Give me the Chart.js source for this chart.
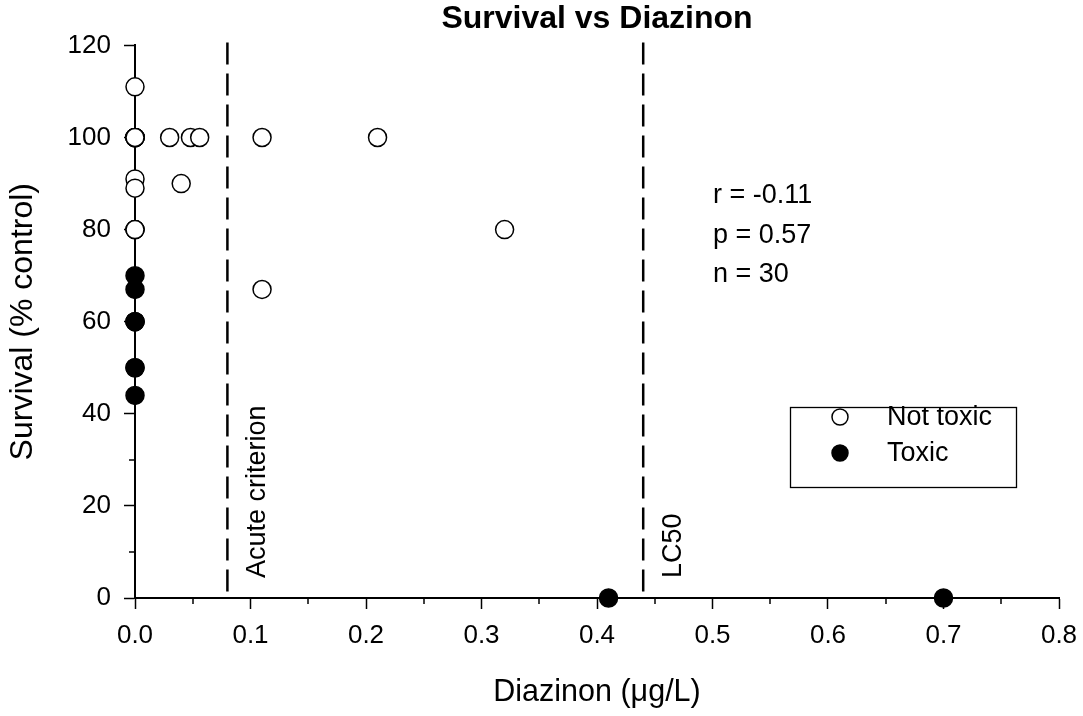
<!DOCTYPE html>
<html><head><meta charset="utf-8">
<script src="https://cdn.jsdelivr.net/npm/chart.js@4/dist/chart.umd.min.js"></script>
<style>html,body{margin:0;padding:0;background:#fff;}#wrap{width:1083px;height:716px;}</style>
</head><body><div id="wrap"><canvas id="c" width="1083" height="716"></canvas></div>
<script>
// ---- data ----
const seriesNames = ['Not toxic', 'Toxic'];
const notToxicX = [0, 0, 0, 0, 0, 0, 0, 0, 0, 0, 0, 0, 0.03, 0.048, 0.056, 0.04, 0.11, 0.21, 0.32, 0.11];
const notToxicY = [111, 100, 100, 100, 100, 100, 100, 91, 89, 80, 80, 80, 100, 100, 100, 90, 100, 100, 80, 67];
const toxicX = [0, 0, 0, 0, 0, 0, 0, 0, 0.41, 0.70];
const toxicY = [70, 67, 60, 60, 60, 50, 50, 44, 0, 0];
const xTickValues = [0, 0.1, 0.2, 0.3, 0.4, 0.5, 0.6, 0.7, 0.8];
const yTickValues = [0, 20, 40, 60, 80, 100, 120];
const xMinorTicks = [0.05, 0.15, 0.25, 0.35, 0.45, 0.55, 0.65, 0.75];
const yMinorTicks = [10, 30, 50, 70, 90, 110];
const refLineX = [0.08, 0.44];
const refLineLabels = ['Acute criterion', 'LC50'];
const statsLines = ['r = -0.11', 'p = 0.57', 'n = 30'];
const chartTitle = 'Survival vs Diazinon';
const xTitle = 'Diazinon (μg/L)';
const yTitle = 'Survival (% control)';

const FONT = '"Liberation Sans", Arial, Helvetica, sans-serif';
Chart.defaults.font.family = FONT;
Chart.defaults.color = '#000';

const toPts = (xs, ys) => xs.map((x, i) => ({x: x, y: ys[i]}));

const overlay = {
  id: 'overlay',
  beforeDatasetsDraw(chart) {
    const {ctx, chartArea, scales} = chart;
    ctx.save();
    // minor ticks
    ctx.strokeStyle = '#000';
    ctx.lineWidth = 1.5;
    xMinorTicks.forEach(v => {
      const px = Math.round(scales.x.getPixelForValue(v));
      ctx.beginPath(); ctx.moveTo(px, chartArea.bottom); ctx.lineTo(px, chartArea.bottom + 6); ctx.stroke();
    });
    yMinorTicks.forEach(v => {
      const py = Math.round(scales.y.getPixelForValue(v));
      ctx.beginPath(); ctx.moveTo(chartArea.left, py); ctx.lineTo(chartArea.left - 6, py); ctx.stroke();
    });
    // dashed reference lines
    ctx.lineWidth = 2.5;
    ctx.setLineDash([22, 9]);
    refLineX.forEach(v => {
      const px = scales.x.getPixelForValue(v);
      ctx.beginPath();
      ctx.moveTo(px, chartArea.top - 3);
      ctx.lineTo(px, chartArea.bottom);
      ctx.stroke();
    });
    ctx.restore();
  },
  afterDraw(chart) {
    const {ctx, scales} = chart;
    ctx.save();
    // reference line labels
    ctx.fillStyle = '#000';
    ctx.font = '27px ' + FONT;
    ctx.textAlign = 'left';
    ctx.textBaseline = 'alphabetic';
    refLineX.forEach((v, i) => {
      const px = scales.x.getPixelForValue(v);
      ctx.save();
      ctx.translate(px + 38, scales.y.getPixelForValue(0) - 20);
      ctx.rotate(-Math.PI / 2);
      ctx.fillText(refLineLabels[i], 0, 0);
      ctx.restore();
    });
    // stats text
    statsLines.forEach((t, i) => {
      ctx.fillText(t, 713, 203 + i * 39.5);
    });
    // legend
    const box = {x: 790, y: 407, w: 226, h: 80};
    ctx.lineWidth = 1.3;
    ctx.strokeStyle = '#000';
    ctx.strokeRect(box.x + 0.5, box.y + 0.5, box.w, box.h);
    chart.data.datasets.forEach((ds, i) => {
      const cy = 417 + i * 36;
      ctx.beginPath();
      ctx.arc(840, cy, 8, 0, Math.PI * 2);
      ctx.fillStyle = ds.backgroundColor;
      ctx.fill();
      ctx.lineWidth = 1.5;
      ctx.strokeStyle = ds.borderColor;
      ctx.stroke();
      ctx.fillStyle = '#000';
      ctx.font = '27px ' + FONT;
      ctx.textBaseline = 'middle';
      ctx.fillText(ds.label, 887, cy + 1);
    });
    ctx.restore();
  }
};

new Chart(document.getElementById('c'), {
  type: 'scatter',
  data: {
    datasets: [
      {label: seriesNames[0], data: toPts(notToxicX, notToxicY), backgroundColor: '#fff', borderColor: '#000',
       borderWidth: 1.5, pointRadius: 9, pointHoverRadius: 9, clip: false},
      {label: seriesNames[1], data: toPts(toxicX, toxicY), backgroundColor: '#000', borderColor: '#000',
       borderWidth: 1.5, pointRadius: 9, pointHoverRadius: 9, clip: false}
    ]
  },
  options: {
    responsive: false,
    animation: false,
    devicePixelRatio: 1,
    layout: {padding: {left: 0, right: 24, top: 0, bottom: 0}},
    plugins: {
      legend: {display: false},
      tooltip: {enabled: false},
      title: {display: true, fullSize: false, text: chartTitle, color: '#000',
              font: {size: 32, weight: 'bold', family: FONT}, padding: {top: 0, bottom: 7}}
    },
    scales: {
      x: {
        type: 'linear', min: 0, max: 0.8,
        afterBuildTicks: s => { s.ticks = xTickValues.map(v => ({value: v})); },
        ticks: {font: {size: 26}, color: '#000', padding: 11, callback: v => Number(v).toFixed(1), maxRotation: 0},
        grid: {display: true, drawOnChartArea: false, tickLength: 11, tickColor: '#000', tickWidth: 1.5},
        border: {display: true, color: '#000', width: 2},
        title: {display: true, text: xTitle, color: '#000', font: {size: 30.5}, padding: {top: 0, bottom: 5}},
        afterFit: s => { s.height = 118; s.paddingRight = 0; s.paddingLeft = 0; }
      },
      y: {
        type: 'linear', min: 0, max: 120,
        afterBuildTicks: s => { s.ticks = yTickValues.map(v => ({value: v})); },
        ticks: {font: {size: 26}, color: '#000', padding: 13},
        grid: {display: true, drawOnChartArea: false, tickLength: 11, tickColor: '#000', tickWidth: 1.5},
        border: {display: true, color: '#000', width: 2},
        title: {display: true, text: yTitle, color: '#000', font: {size: 32}, padding: {top: 4, bottom: 0}},
        afterFit: s => { s.width = 135; s.paddingTop = 0; s.paddingBottom = 0; }
      }
    }
  },
  plugins: [overlay]
});
</script>
</body></html>
